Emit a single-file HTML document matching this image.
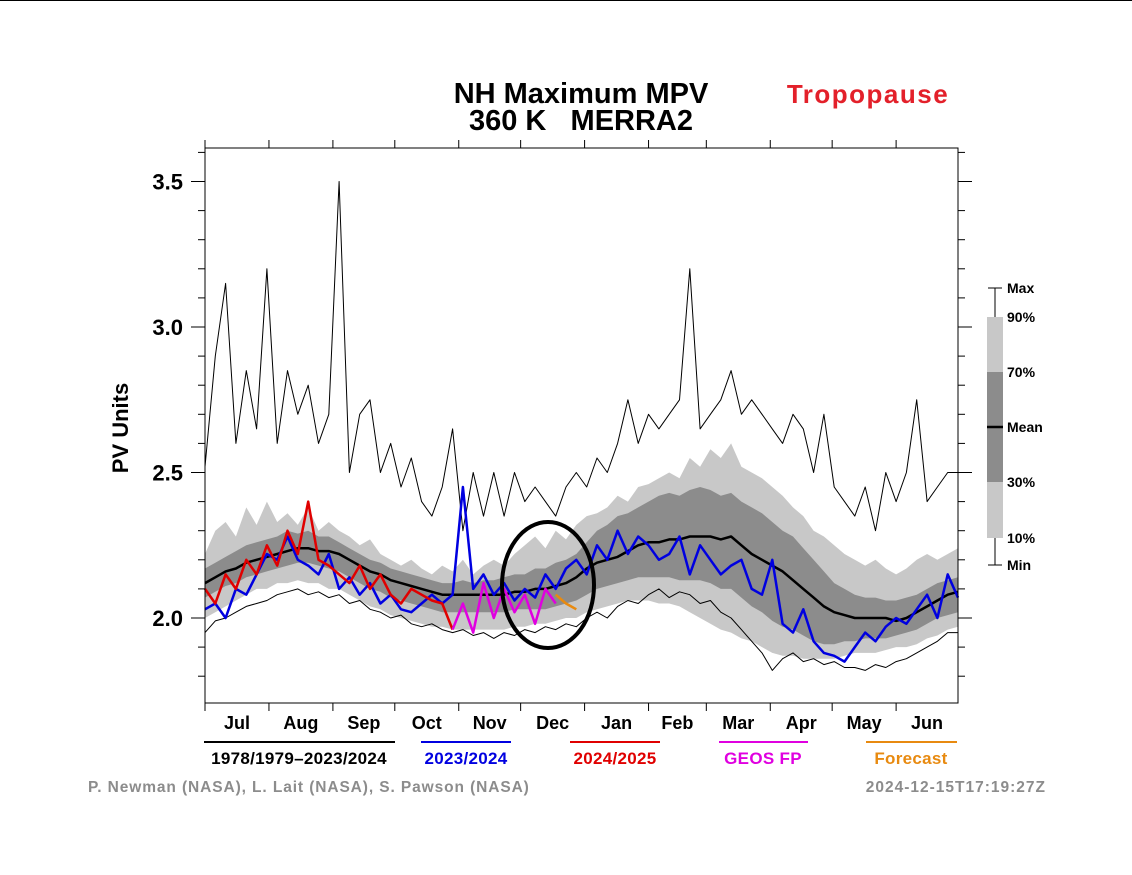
<!DOCTYPE html>
<html><head><meta charset="utf-8"><style>
body{margin:0;background:#fff;}
svg{display:block;font-family:"Liberation Sans",Arial,sans-serif;}
</style></head><body>
<svg id="chart" width="1132" height="875" viewBox="0 0 1132 875">
<line x1="0" y1="0.5" x2="1132" y2="0.5" stroke="#000"/>
<text x="581" y="103" font-size="29" font-weight="bold" text-anchor="middle">NH Maximum MPV</text>
<text x="581" y="130" font-size="29" font-weight="bold" text-anchor="middle" xml:space="preserve">360 K   MERRA2</text>
<text x="868" y="103" font-size="26" font-weight="bold" fill="#e3202a" text-anchor="middle" letter-spacing="1.5">Tropopause</text>
<text x="128" y="428" font-size="22" font-weight="bold" text-anchor="middle" transform="rotate(-90 128 428)">PV Units</text>
<g id="plot"></g>
<g id="axes"></g>
<g font-size="17" font-weight="bold" text-anchor="middle" letter-spacing="0.3">
<line x1="204" y1="742" x2="395" y2="742" stroke="#000" stroke-width="2"/>
<text x="299" y="764">1978/1979–2023/2024</text>
<line x1="421" y1="742" x2="511" y2="742" stroke="#0000e0" stroke-width="2"/>
<text x="466" y="764" fill="#0000e0">2023/2024</text>
<line x1="570" y1="742" x2="660" y2="742" stroke="#e00000" stroke-width="2"/>
<text x="615" y="764" fill="#e00000">2024/2025</text>
<line x1="719" y1="742" x2="808" y2="742" stroke="#e000e0" stroke-width="2"/>
<text x="763" y="764" fill="#e000e0">GEOS FP</text>
<line x1="866" y1="742" x2="957" y2="742" stroke="#e88a10" stroke-width="2"/>
<text x="911" y="764" fill="#e88a10">Forecast</text>
</g>
<text x="88" y="792" font-size="15.5" font-weight="bold" fill="#8c8c8c" letter-spacing="0.9">P. Newman (NASA), L. Lait (NASA), S. Pawson (NASA)</text>
<text x="1046" y="792" font-size="15.5" font-weight="bold" fill="#8c8c8c" text-anchor="end" letter-spacing="1">2024-12-15T17:19:27Z</text>
<g>
<rect x="987" y="317" width="16" height="221" fill="#c8c8c8"/>
<rect x="987" y="372" width="16" height="110" fill="#8c8c8c"/>
<line x1="995" y1="288" x2="995" y2="317" stroke="#000"/>
<line x1="995" y1="538" x2="995" y2="565" stroke="#000"/>
<line x1="988" y1="288" x2="1002" y2="288" stroke="#000"/>
<line x1="988" y1="565" x2="1002" y2="565" stroke="#000"/>
<line x1="987" y1="427" x2="1003" y2="427" stroke="#000" stroke-width="2.5"/>
<g font-size="14" font-weight="bold">
<text x="1007" y="293">Max</text><text x="1007" y="322">90%</text><text x="1007" y="377">70%</text>
<text x="1007" y="432">Mean</text><text x="1007" y="487">30%</text><text x="1007" y="543">10%</text><text x="1007" y="570">Min</text>
</g></g>
</svg>
<script>
const months=["Jul","Aug","Sep","Oct","Nov","Dec","Jan","Feb","Mar","Apr","May","Jun"];
const monthDays=[31,31,30,31,30,31,31,28,31,30,31,30];
const yTicks=[2.0,2.5,3.0,3.5];
const stepDays=5;
const maxVals=[2.52,2.9,3.15,2.6,2.85,2.65,3.2,2.6,2.85,2.7,2.8,2.6,2.7,3.5,2.5,2.7,2.75,2.5,2.6,2.45,2.55,2.4,2.35,2.45,2.65,2.3,2.5,2.35,2.5,2.35,2.5,2.4,2.45,2.4,2.35,2.45,2.5,2.45,2.55,2.5,2.6,2.75,2.6,2.7,2.65,2.7,2.75,3.2,2.65,2.7,2.75,2.85,2.7,2.75,2.7,2.65,2.6,2.7,2.65,2.5,2.7,2.45,2.4,2.35,2.45,2.3,2.5,2.4,2.5,2.75,2.4,2.45,2.5,2.5];
const minVals=[1.95,1.99,2.0,2.02,2.04,2.05,2.06,2.08,2.09,2.1,2.08,2.09,2.07,2.08,2.05,2.06,2.03,2.02,2.0,2.01,1.98,1.97,1.98,1.96,1.95,1.96,1.94,1.95,1.93,1.95,1.94,1.96,1.95,1.97,1.96,1.98,1.97,2.0,2.02,2.0,2.04,2.06,2.05,2.08,2.1,2.07,2.09,2.08,2.05,2.06,2.02,2.0,1.96,1.92,1.88,1.82,1.86,1.88,1.85,1.86,1.84,1.85,1.83,1.83,1.82,1.84,1.83,1.85,1.86,1.88,1.9,1.92,1.95,1.95];
const meanVals=[2.12,2.14,2.16,2.17,2.19,2.2,2.21,2.22,2.23,2.24,2.24,2.23,2.23,2.22,2.2,2.18,2.16,2.15,2.13,2.12,2.11,2.1,2.09,2.08,2.08,2.08,2.08,2.08,2.08,2.08,2.09,2.09,2.1,2.1,2.11,2.12,2.14,2.17,2.19,2.2,2.21,2.23,2.25,2.26,2.26,2.27,2.27,2.28,2.28,2.28,2.27,2.28,2.25,2.22,2.2,2.18,2.16,2.13,2.1,2.07,2.04,2.02,2.01,2.0,2.0,2.0,2.0,1.99,2.0,2.02,2.04,2.06,2.08,2.09];
const p90Vals=[2.22,2.3,2.33,2.28,2.38,2.32,2.4,2.33,2.36,2.32,2.38,2.3,2.33,2.3,2.28,2.25,2.27,2.22,2.2,2.18,2.2,2.17,2.15,2.18,2.16,2.2,2.15,2.18,2.2,2.18,2.22,2.25,2.28,2.24,2.3,2.27,2.32,2.35,2.36,2.38,2.42,2.4,2.45,2.46,2.48,2.5,2.48,2.55,2.52,2.58,2.55,2.6,2.52,2.5,2.48,2.45,2.42,2.38,2.35,2.3,2.28,2.25,2.22,2.2,2.18,2.2,2.17,2.15,2.17,2.2,2.22,2.2,2.22,2.24];
const p70Vals=[2.17,2.19,2.21,2.23,2.25,2.26,2.27,2.28,2.3,2.29,2.3,2.28,2.28,2.26,2.24,2.22,2.2,2.19,2.17,2.16,2.15,2.14,2.13,2.12,2.12,2.13,2.12,2.13,2.13,2.14,2.15,2.15,2.17,2.17,2.19,2.2,2.22,2.26,2.3,2.32,2.35,2.36,2.38,2.4,2.42,2.43,2.42,2.44,2.45,2.44,2.42,2.43,2.4,2.38,2.36,2.33,2.3,2.28,2.24,2.2,2.16,2.12,2.1,2.08,2.07,2.07,2.06,2.06,2.07,2.08,2.1,2.12,2.13,2.14];
const p30Vals=[2.07,2.09,2.11,2.12,2.14,2.15,2.16,2.17,2.18,2.19,2.19,2.18,2.17,2.16,2.14,2.12,2.1,2.09,2.07,2.06,2.05,2.04,2.03,2.02,2.02,2.02,2.02,2.02,2.02,2.02,2.03,2.03,2.03,2.03,2.04,2.05,2.06,2.08,2.1,2.11,2.12,2.13,2.14,2.14,2.14,2.14,2.13,2.13,2.13,2.12,2.1,2.1,2.07,2.04,2.02,1.99,1.97,1.96,1.94,1.92,1.91,1.91,1.92,1.92,1.93,1.93,1.93,1.94,1.95,1.96,1.98,2.0,2.01,2.02];
const p10Vals=[2.0,2.02,2.04,2.06,2.08,2.1,2.1,2.12,2.12,2.13,2.12,2.12,2.1,2.1,2.08,2.06,2.04,2.03,2.01,2.0,1.99,1.98,1.97,1.97,1.96,1.96,1.96,1.96,1.96,1.96,1.97,1.97,1.98,1.98,1.99,2.0,2.0,2.02,2.03,2.04,2.05,2.06,2.06,2.06,2.05,2.05,2.04,2.02,2.0,1.98,1.96,1.95,1.93,1.92,1.9,1.88,1.87,1.87,1.86,1.86,1.86,1.86,1.87,1.88,1.88,1.88,1.89,1.9,1.9,1.91,1.93,1.94,1.96,1.97];
const blueVals=[2.03,2.05,2.0,2.1,2.08,2.15,2.22,2.2,2.28,2.2,2.18,2.15,2.22,2.1,2.14,2.08,2.12,2.05,2.08,2.03,2.02,2.05,2.08,2.05,2.08,2.45,2.1,2.15,2.08,2.12,2.06,2.1,2.07,2.15,2.1,2.17,2.2,2.15,2.25,2.2,2.3,2.22,2.28,2.25,2.2,2.22,2.28,2.15,2.25,2.2,2.15,2.18,2.2,2.1,2.08,2.2,1.98,1.95,2.03,1.92,1.88,1.87,1.85,1.9,1.95,1.92,1.97,2.0,1.98,2.03,2.08,2.0,2.15,2.07];
const redVals=[2.1,2.05,2.15,2.1,2.2,2.15,2.25,2.18,2.3,2.22,2.4,2.2,2.18,2.15,2.12,2.18,2.1,2.15,2.08,2.05,2.1,2.08,2.06,2.05,1.96];
const geosStart=120;
const geosVals=[1.96,2.05,1.95,2.12,2.0,2.1,2.02,2.08,1.98,2.1,2.05];
const fcStart=170;
const fcVals=[2.08,2.05,2.03];

const X0=205,X1=958,Y0=148,Y1=703;
const xs=d=>X0+d*(X1-X0)/365;
const ys=v=>618-(v-2.0)*291;
const NS="http://www.w3.org/2000/svg";
const plot=document.getElementById('plot'), axes=document.getElementById('axes');
function mk(tag,attrs,parent){const e=document.createElementNS(NS,tag);for(const k in attrs)e.setAttribute(k,attrs[k]);parent.appendChild(e);return e;}
function pts(vals,start){return vals.map((v,i)=>xs(start+i*stepDays).toFixed(1)+","+ys(v).toFixed(1));}
function band(top,bot,fill,name){
  const p=pts(top,0).concat(pts(bot,0).reverse());
  const e=mk('polygon',{points:p.join(' '),fill:fill},plot);
  
  
}
function line(vals,start,stroke,w,name){
  const e=mk('polyline',{points:pts(vals,start).join(' '),fill:'none',stroke:stroke,'stroke-width':w,'stroke-linejoin':'round'},plot);
  
  
}
band(p90Vals,p10Vals,'#c8c8c8','band-10-90');
band(p70Vals,p30Vals,'#8c8c8c','band-30-70');
line(maxVals,0,'#000',1,'max-line');
line(minVals,0,'#000',1,'min-line');
line(meanVals,0,'#000',2.5,'mean-line');
line(blueVals,0,'#0000e0',2.5,'series-2023-2024');
line(redVals,0,'#e00000',2.5,'series-2024-2025');
line(geosVals,geosStart,'#e000e0',2.5,'series-geos-fp');
line(fcVals,fcStart,'#e88a10',2.5,'series-forecast');
const ell=mk('ellipse',{cx:548,cy:585,rx:46,ry:63,fill:'none',stroke:'#000','stroke-width':4},plot);


const fr=mk('rect',{x:X0,y:Y0,width:X1-X0,height:Y1-Y0,fill:'none',stroke:'#000','stroke-width':1},axes);


for(let v=1.8;v<=3.61;v+=0.1){
  const y=ys(v), major=Math.abs(v*2-Math.round(v*2))<0.01;
  const L=major?14:7;
  mk('line',{x1:X0-L,y1:y,x2:X0,y2:y,stroke:'#000'},axes);
  mk('line',{x1:X1,y1:y,x2:X1+L,y2:y,stroke:'#000'},axes);
}
yTicks.forEach(v=>{
  const t=mk('text',{x:183,y:ys(v)+8,'font-size':22,'font-weight':'bold','text-anchor':'end'},axes);
  t.textContent=v.toFixed(1);
  
  
});
let d=0;
months.forEach((m,i)=>{
  mk('line',{x1:xs(d),y1:Y1,x2:xs(d),y2:Y1+8,stroke:'#000'},axes);
  mk('line',{x1:xs(d),y1:Y0-8,x2:xs(d),y2:Y0,stroke:'#000'},axes);
  const t=mk('text',{x:xs(d+monthDays[i]/2),y:729,'font-size':18,'font-weight':'bold','text-anchor':'middle'},axes);
  t.textContent=m;
  
  
  d+=monthDays[i];
});
</script>
</body></html>
